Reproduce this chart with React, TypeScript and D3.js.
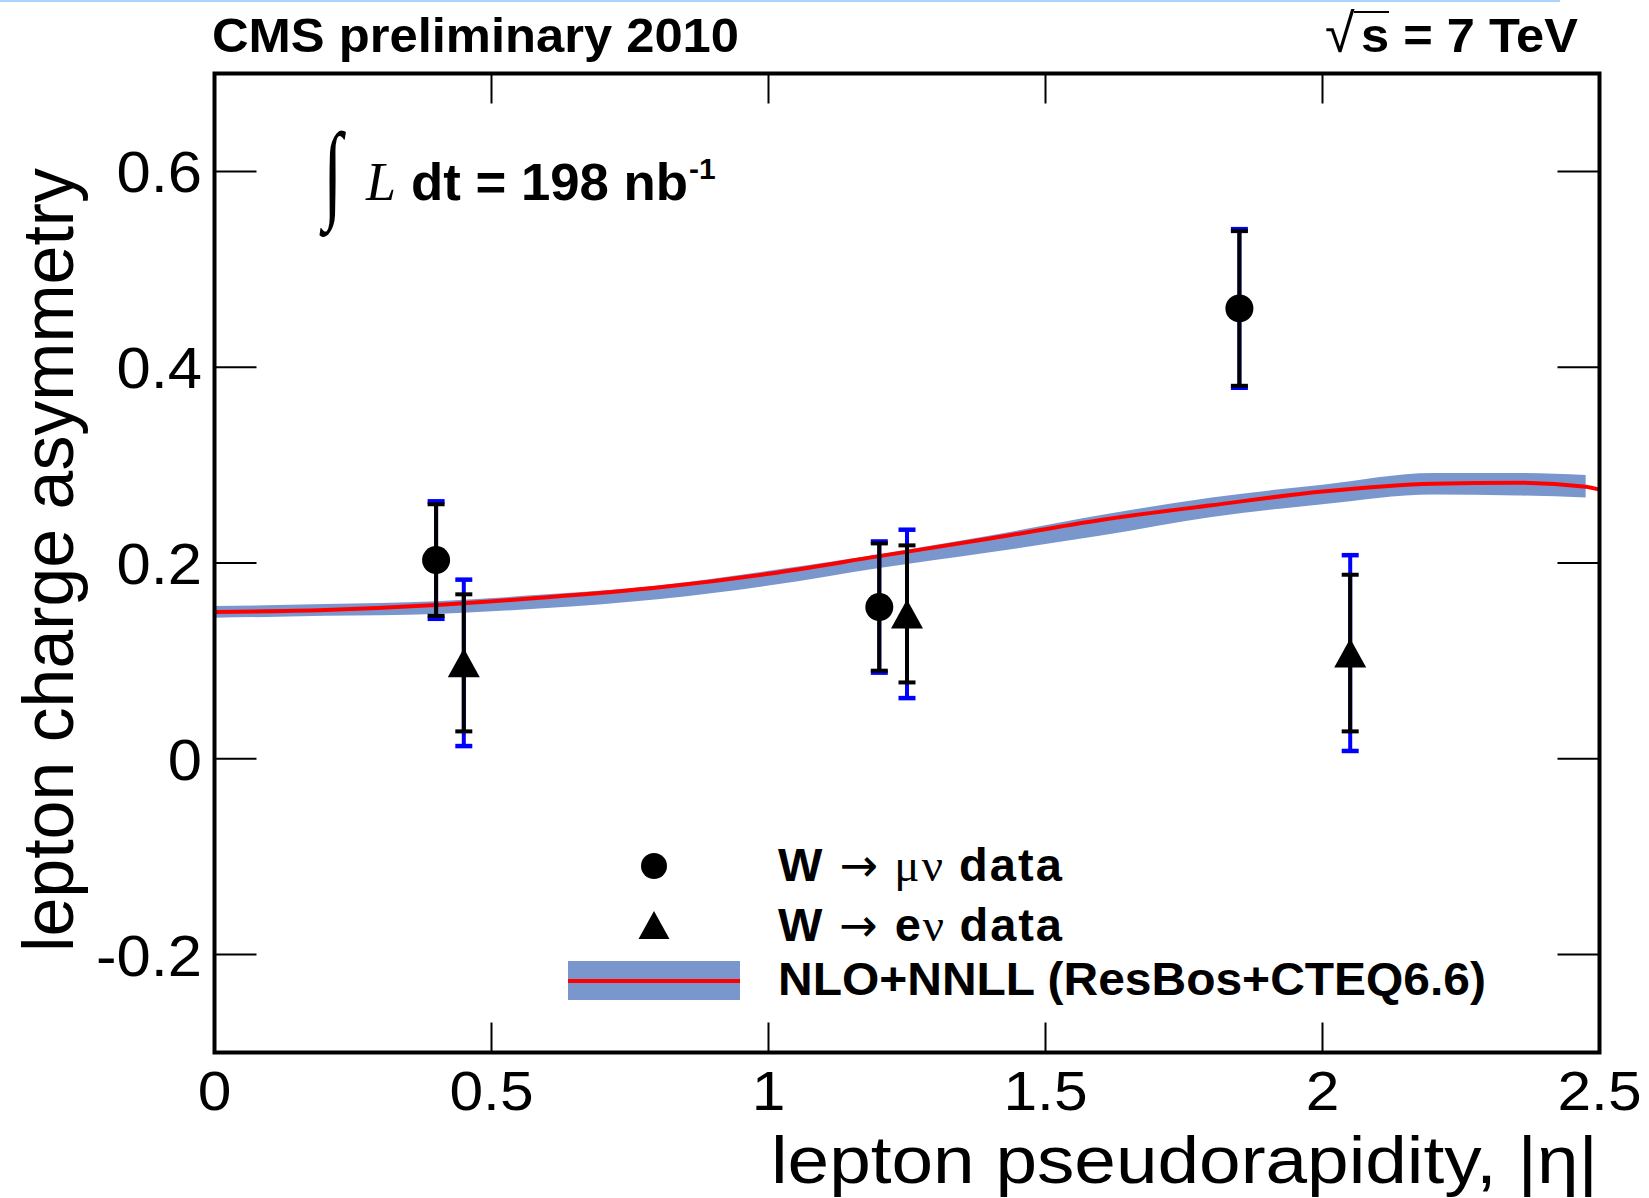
import React from 'react';
import * as d3 from 'd3';

const W = 1649;
const H = 1198;

const xTicks = [0, 0.5, 1, 1.5, 2, 2.5];
const xTickLabels = ['0', '0.5', '1', '1.5', '2', '2.5'];
const yTicks = [-0.2, 0, 0.2, 0.4, 0.6];
const yTickLabels = ['-0.2', '0', '0.2', '0.4', '0.6'];

// W -> mu nu data
const muEta = [0.4, 1.2, 1.85];
const muAsym = [0.203, 0.155, 0.46];
const muStat = [0.057, 0.065, 0.079];
const muTot = [0.06, 0.067, 0.081];

// W -> e nu data
const eEta = [0.45, 1.25, 2.05];
const eAsym = [0.098, 0.148, 0.108];
const eStat = [0.07, 0.07, 0.08];
const eTot = [0.085, 0.086, 0.1];

// NLO+NNLL theory
const theoryEta = [0, 0.2, 0.4, 0.6, 0.8, 1.0, 1.2, 1.4, 1.6, 1.8, 2.0, 2.2, 2.35, 2.475, 2.5];
const theoryCentral = [0.15, 0.152, 0.157, 0.165, 0.175, 0.189, 0.207, 0.225, 0.244, 0.259, 0.273, 0.281, 0.282, 0.278, 0.275];
const bandEta = [0, 0.2, 0.4, 0.6, 0.8, 1.0, 1.2, 1.4, 1.6, 1.8, 2.0, 2.2, 2.35, 2.475];
const bandUp = [0.156, 0.158, 0.161, 0.168, 0.177, 0.192, 0.209, 0.228, 0.249, 0.267, 0.28, 0.292, 0.292, 0.29];
const bandLo = [0.144, 0.146, 0.148, 0.154, 0.163, 0.177, 0.195, 0.211, 0.228, 0.247, 0.26, 0.27, 0.269, 0.267];

const SANS = '"Liberation Sans", Arial, Helvetica, sans-serif';
const SERIF = '"Liberation Serif", "Times New Roman", serif';
const ARROW = '"DejaVu Sans", sans-serif';
const BAND = '#7a97cd';
const RED = '#ff0000';
const ERRBLUE = '#0000ff';

export default function App() {
  const left = 214.5, right = 1599.5, top = 73.5, bottom = 1052.5;
  const x = d3.scaleLinear().domain([0, 2.5]).range([left, right]);
  const y = d3.scaleLinear().domain([-0.3, 0.7]).range([bottom, top]);

  const bandData = bandEta.map((e, i) => ({ e, u: bandUp[i], l: bandLo[i] }));
  const area = d3.area<any>().x(d => x(d.e)).y0(d => y(d.l)).y1(d => y(d.u)).curve(d3.curveMonotoneX);
  const lineData = theoryEta.map((e, i) => ({ e, v: theoryCentral[i] }));
  const line = d3.line<any>().x(d => x(d.e)).y(d => y(d.v)).curve(d3.curveMonotoneX);

  const capW = 17;
  const errBar = (cx: number, v: number, stat: number, tot: number, key: string) => (
    <g key={key}>
      <line x1={x(cx)} x2={x(cx)} y1={y(v + tot)} y2={y(v - tot)} stroke={ERRBLUE} strokeWidth={4} />
      <line x1={x(cx) - capW / 2} x2={x(cx) + capW / 2} y1={y(v + tot)} y2={y(v + tot)} stroke={ERRBLUE} strokeWidth={4.5} />
      <line x1={x(cx) - capW / 2} x2={x(cx) + capW / 2} y1={y(v - tot)} y2={y(v - tot)} stroke={ERRBLUE} strokeWidth={4.5} />
      <line x1={x(cx)} x2={x(cx)} y1={y(v + stat)} y2={y(v - stat)} stroke="#000" strokeWidth={4} />
      <line x1={x(cx) - capW / 2} x2={x(cx) + capW / 2} y1={y(v + stat)} y2={y(v + stat)} stroke="#000" strokeWidth={4} />
      <line x1={x(cx) - capW / 2} x2={x(cx) + capW / 2} y1={y(v - stat)} y2={y(v - stat)} stroke="#000" strokeWidth={4} />
    </g>
  );

  const tri = (cx: number, cy: number, w: number, h: number) =>
    `M${cx},${cy - h / 2}L${cx + w / 2},${cy + h / 2}L${cx - w / 2},${cy + h / 2}Z`;

  return (
    <svg width={W} height={H} style={{ position: 'absolute', left: 0, top: 0, background: '#fff' }}>
      <rect x={0} y={0} width={W} height={H} fill="#fff" />
      <rect x={0} y={0} width={1560} height={2} fill="#a9d4fb" />

      {/* theory band + line */}
      <path d={area(bandData) || ''} fill={BAND} />
      <path d={line(lineData) || ''} fill="none" stroke={RED} strokeWidth={4} />

      {/* error bars */}
      {muEta.map((e, i) => errBar(e, muAsym[i], muStat[i], muTot[i], 'm' + i))}
      {eEta.map((e, i) => errBar(e, eAsym[i], eStat[i], eTot[i], 'e' + i))}

      {/* markers */}
      {muEta.map((e, i) => (
        <circle key={'mc' + i} cx={x(e)} cy={y(muAsym[i])} r={14} fill="#000" />
      ))}
      {eEta.map((e, i) => (
        <path key={'et' + i} d={tri(x(e), y(eAsym[i]), 32, 29)} fill="#000" />
      ))}

      {/* frame */}
      <rect x={left} y={top} width={right - left} height={bottom - top} fill="none" stroke="#000" strokeWidth={4} />
      {xTicks.slice(1, -1).map((t, i) => (
        <g key={'xt' + i}>
          <line x1={x(t)} x2={x(t)} y1={bottom} y2={bottom - 30} stroke="#000" strokeWidth={2} />
          <line x1={x(t)} x2={x(t)} y1={top} y2={top + 30} stroke="#000" strokeWidth={2} />
        </g>
      ))}
      {yTicks.map((t, i) => (
        <g key={'yt' + i}>
          <line x1={left} x2={left + 42} y1={y(t)} y2={y(t)} stroke="#000" strokeWidth={2} />
          <line x1={right} x2={right - 42} y1={y(t)} y2={y(t)} stroke="#000" strokeWidth={2} />
        </g>
      ))}

      {/* tick labels */}
      {xTicks.map((t, i) => (
        <text key={'xl' + i} x={x(t)} y={1110} textAnchor="middle" fontFamily={SANS} fontSize={56} fill="#000"
          transform={`translate(${x(t)},0) scale(1.08,1) translate(${-x(t)},0)`}>
          {xTickLabels[i]}
        </text>
      ))}
      {yTicks.map((t, i) => (
        <text key={'yl' + i} x={202} y={y(t) + 21} textAnchor="end" fontFamily={SANS} fontSize={57} fill="#000"
          transform={`translate(202,0) scale(1.08,1) translate(-202,0)`}>
          {yTickLabels[i]}
        </text>
      ))}

      {/* axis titles */}
      <text x={771} y={1183} fontFamily={SANS} fontSize={66} textLength={827} lengthAdjust="spacingAndGlyphs" fill="#000">
        lepton pseudorapidity, |η|
      </text>
      <text transform="translate(73,952) rotate(-90)" x={0} y={0} fontFamily={SANS} fontSize={72} textLength={784} lengthAdjust="spacingAndGlyphs" fill="#000">
        lepton charge asymmetry
      </text>

      {/* header */}
      <text x={212} y={52} fontFamily={SANS} fontWeight="bold" fontSize={49} textLength={527} lengthAdjust="spacingAndGlyphs" fill="#000">
        CMS preliminary 2010
      </text>
      <text x={1325} y={52} fontFamily={SANS} fontSize={54} fill="#000">√</text>
      <line x1={1354} x2={1389} y1={12} y2={12} stroke="#000" strokeWidth={2} />
      <text x={1361} y={52} fontFamily={SANS} fontWeight="bold" fontSize={49} textLength={217} lengthAdjust="spacingAndGlyphs" fill="#000">
        s = 7 TeV
      </text>

      {/* luminosity */}
      <text transform="translate(323,208) scale(1,1.55)" fontFamily={SERIF} fontSize={70} fill="#000">∫</text>
      <text x={366} y={200} fontFamily={SERIF} fontStyle="italic" fontSize={54} fill="#000">L</text>
      <text x={411} y={200} fontFamily={SANS} fontWeight="bold" fontSize={52} textLength={277} lengthAdjust="spacingAndGlyphs" fill="#000">
        dt = 198 nb
      </text>
      <text x={689} y={179} fontFamily={SANS} fontWeight="bold" fontSize={30} fill="#000">-1</text>

      {/* legend */}
      <circle cx={654} cy={866} r={13} fill="#000" />
      <text x={778} y={881} fontFamily={SANS} fontWeight="bold" fontSize={47} textLength={284} lengthAdjust="spacing" fill="#000">
        W <tspan fontFamily={ARROW} fontWeight="normal" fontSize={46}>→</tspan><tspan fontFamily={SERIF} fontWeight="normal"> μν </tspan>data
      </text>
      <path d={tri(654, 925, 31, 28)} fill="#000" />
      <text x={778} y={941} fontFamily={SANS} fontWeight="bold" fontSize={47} textLength={284} lengthAdjust="spacing" fill="#000">
        W <tspan fontFamily={ARROW} fontWeight="normal" fontSize={46}>→</tspan> e<tspan fontFamily={SERIF} fontWeight="normal">ν </tspan>data
      </text>
      <rect x={568} y={961} width={172} height={39} fill={BAND} />
      <line x1={568} x2={740} y1={981} y2={981} stroke={RED} strokeWidth={4} />
      <text x={778} y={995} fontFamily={SANS} fontWeight="bold" fontSize={47} textLength={708} lengthAdjust="spacingAndGlyphs" fill="#000">
        NLO+NNLL (ResBos+CTEQ6.6)
      </text>
    </svg>
  );
}
